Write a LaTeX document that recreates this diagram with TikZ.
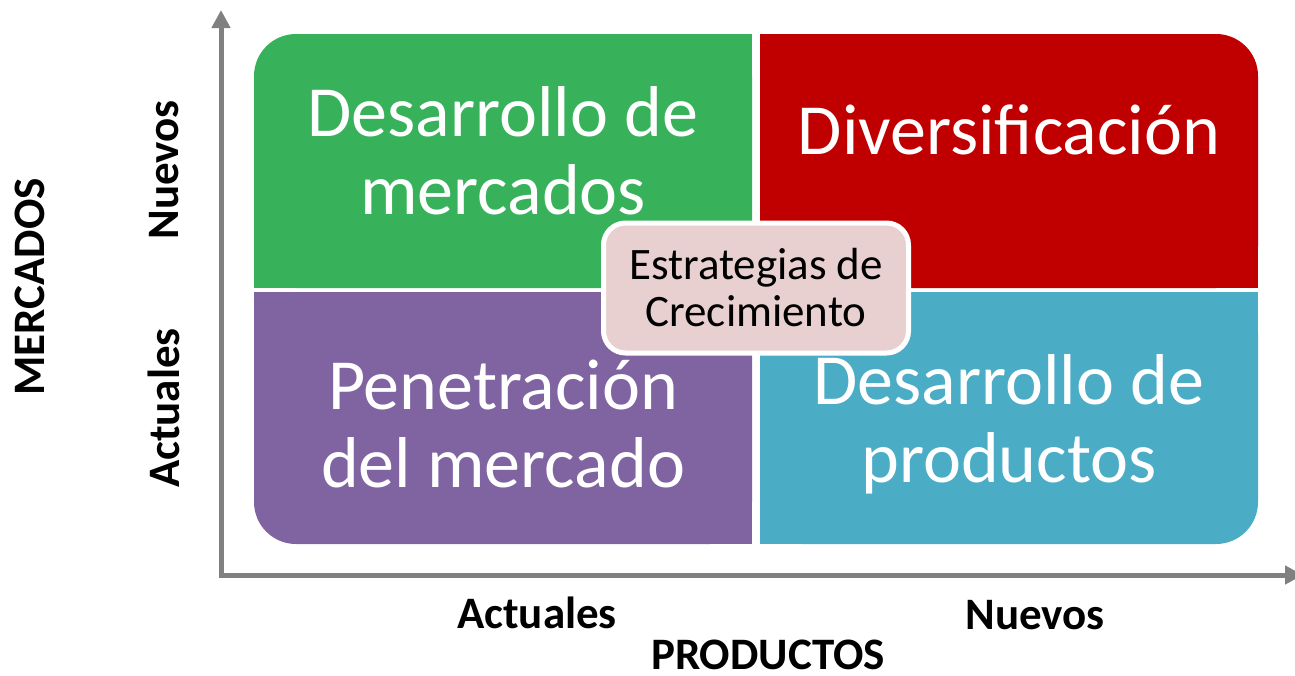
\documentclass[tikz,border=0pt]{standalone}
\usepackage{fontspec}
\setmainfont{Carlito}
\usetikzlibrary{arrows.meta}
\definecolor{qgreen}{RGB}{55,178,90}
\definecolor{qred}{RGB}{192,0,0}
\definecolor{qpurple}{RGB}{128,100,162}
\definecolor{qblue}{RGB}{75,172,198}
\definecolor{qpink}{RGB}{232,208,208}
\definecolor{axisgray}{RGB}{128,128,128}
\tikzset{
  qtext/.style={text=white, align=center, font=\fontsize{72}{78}\selectfont, inner sep=0pt},
  axlabel/.style={font=\bfseries\fontsize{45}{50}\selectfont, text=black, inner sep=0pt},
  axisline/.style={draw=axisgray, line width=5pt, -{Triangle[length=18pt,width=18pt]}},
}
\begin{document}
\begin{tikzpicture}[x=1pt,y=-1pt]
\useasboundingbox (0,0) rectangle (1295,675);
% quadrants
\fill[qgreen, rounded corners=42] (254,34) rectangle (752,288);
\fill[qgreen] (296,34) rectangle (752,288);
\fill[qgreen] (254,76) rectangle (752,288);
\fill[qred, rounded corners=42] (760,34) rectangle (1258,288);
\fill[qred] (760,34) rectangle (1216,288);
\fill[qred] (760,76) rectangle (1258,288);
\fill[qpurple, rounded corners=42] (254,292) rectangle (752,544);
\fill[qpurple] (296,292) rectangle (752,544);
\fill[qpurple] (254,292) rectangle (752,502);
\fill[qblue, rounded corners=42] (760,292) rectangle (1258,544);
\fill[qblue] (760,292) rectangle (1216,544);
\fill[qblue] (760,292) rectangle (1258,502);
% quadrant texts
\node[qtext] (dm) at (503,151) {Desarrollo de\\mercados};
\node[qtext] (dv) at (1009,130) {Diversificación};
\node[qtext] (pm) at (503,424) {Penetración\\del mercado};
\node[qtext] (dp) at (1009,424) {Desarrollo de\\productos};
% center box
\node[draw=white, line width=5pt, fill=qpink, rounded corners=22, minimum width=305pt, minimum height=130pt, align=center, font=\fontsize{45}{47}\selectfont] (ec) at (756,288) {Estrategias de\\Crecimiento};
% axes
\coordinate (ybot) at (221,577.5);
\coordinate (ytop) at (221,10);
\coordinate (xend) at (1303,575);
\coordinate (o2) at (219,575);
\draw[axisline] (ybot) -- (ytop);
\draw[axisline] (o2) -- (xend);
% labels
\node[axlabel, rotate=90] (mn) at (164,170) {Nuevos};
\node[axlabel, rotate=90] (ma) at (164,408) {Actuales};
\node[axlabel, rotate=90] (mm) at (30,287) {MERCADOS};
\node[axlabel] (pa) at (537,613) {Actuales};
\node[axlabel] (pn) at (1035,615) {Nuevos};
\node[axlabel] (pp) at (768,655) {PRODUCTOS};
\end{tikzpicture}
\end{document}
